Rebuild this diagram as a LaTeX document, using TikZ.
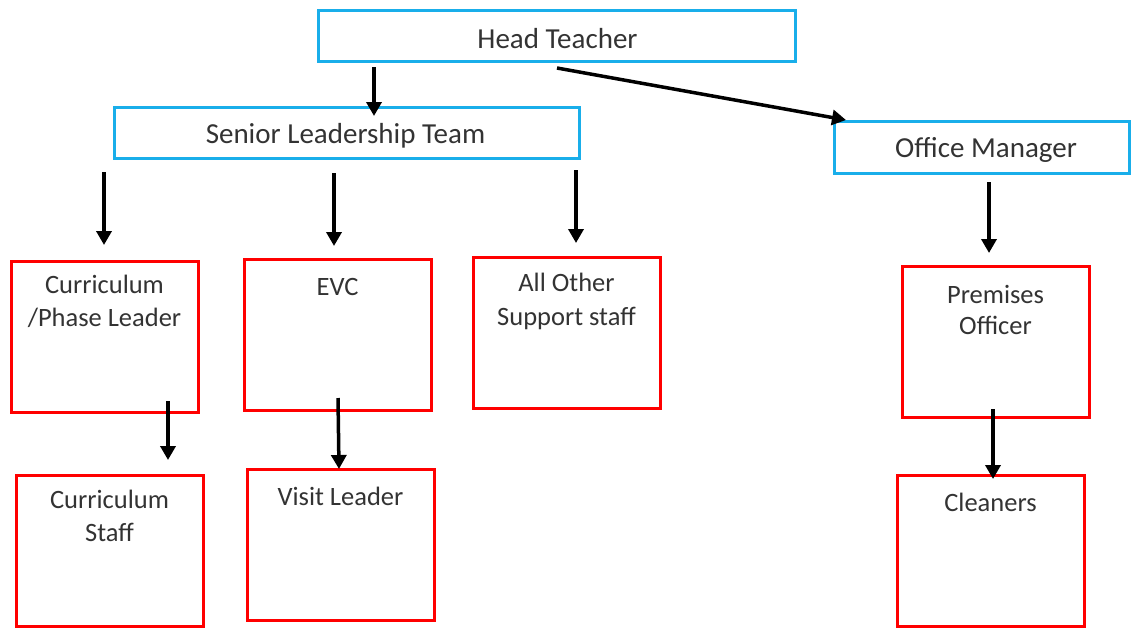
\documentclass[tikz,border=0pt]{standalone}
\usepackage{fontspec}
\setmainfont{Carlito}
\usetikzlibrary{arrows.meta,calc}
\definecolor{boxblue}{HTML}{19AEEA}
\definecolor{boxred}{HTML}{FF0000}
\definecolor{txt}{HTML}{333333}
\begin{document}
\begin{tikzpicture}[x=1pt,y=-1pt,
  bluebox/.style={draw=boxblue,line width=3pt,rectangle,inner sep=0pt},
  redbox/.style={draw=boxred,line width=3pt,rectangle,inner sep=0pt,minimum width=187pt,minimum height=151pt},
  lbl/.style={text=txt,font=\fontsize{26.5}{33.5}\selectfont,align=center,inner sep=0pt},
  blbl/.style={text=txt,font=\fontsize{29}{35}\selectfont,inner sep=0pt},
  arr/.style={draw=black,line width=3.5pt,-{Triangle[length=14pt,width=15pt]}}
]
\useasboundingbox (0,0) rectangle (1131,627);
% blue boxes
\node[bluebox,minimum width=477pt,minimum height=51pt] (ht) at (556.5,35.5) {};
\node[bluebox,minimum width=465pt,minimum height=51pt] (slt) at (346.5,132.5) {};
\node[bluebox,minimum width=295pt,minimum height=52pt] (om) at (981.5,147) {};
\node[blbl] (tht) at ($(ht.center)+(1,3)$) {Head Teacher};
\node[blbl] (tslt) at ($(slt.center)+(-1,3.5)$) {Senior Leadership Team};
\node[blbl] (tom) at ($(om.center)+(4.5,3)$) {Office Manager};
% red boxes
\node[redbox] (cpl) at (104.5,336.5) {};
\node[redbox] (evc) at (337.5,334.5) {};
\node[redbox] (aos) at (566.5,333) {};
\node[redbox] (po) at (995.5,341.5) {};
\node[redbox] (cs) at (109.5,551) {};
\node[redbox] (vl) at (340.5,545) {};
\node[redbox] (cl) at (990.5,551) {};
\node[lbl,anchor=north] (tcpl) at ($(cpl.north)+(0,15)$) {Curriculum\\/Phase Leader};
\node[lbl,anchor=north] (tevc) at ($(evc.north)+(0,21)$) {EVC};
\node[lbl,anchor=north] (taos) at ($(aos.north)+(0,17)$) {All Other\\Support staff};
\node[lbl,anchor=north,font=\fontsize{26.5}{30.5}\selectfont] (tpo) at ($(po.north)+(0,21)$) {Premises\\Officer};
\node[lbl,anchor=north] (tcs) at ($(cs.north)+(0,15.5)$) {Curriculum\\Staff};
\node[lbl,anchor=north] (tvl) at ($(vl.north)+(0,18.5)$) {Visit Leader};
\node[lbl,anchor=north] (tcl) at ($(cl.north)+(0,18.5)$) {Cleaners};
% arrow end points
\coordinate (a1s) at (374,67);   \coordinate (a1e) at (374,116);
\coordinate (a2s) at (557,68);   \coordinate (a2e) at (846,120);
\coordinate (a3s) at (104,172);  \coordinate (a3e) at (104,245);
\coordinate (a4s) at (334,173);  \coordinate (a4e) at (334,246);
\coordinate (a5s) at (576,170);  \coordinate (a5e) at (576,243);
\coordinate (a6s) at (989,182);  \coordinate (a6e) at (989,253);
\coordinate (a7s) at (168,401);  \coordinate (a7e) at (168,460);
\coordinate (a8s) at (338,398);  \coordinate (a8e) at (339,469);
\coordinate (a9s) at (993,409);  \coordinate (a9e) at (993,479);
\draw[arr] (a1s) -- (a1e);
\draw[arr] (a2s) -- (a2e);
\draw[arr] (a3s) -- (a3e);
\draw[arr] (a4s) -- (a4e);
\draw[arr] (a5s) -- (a5e);
\draw[arr] (a6s) -- (a6e);
\draw[arr] (a7s) -- (a7e);
\draw[arr] (a8s) -- (a8e);
\draw[arr] (a9s) -- (a9e);
\end{tikzpicture}
\end{document}
